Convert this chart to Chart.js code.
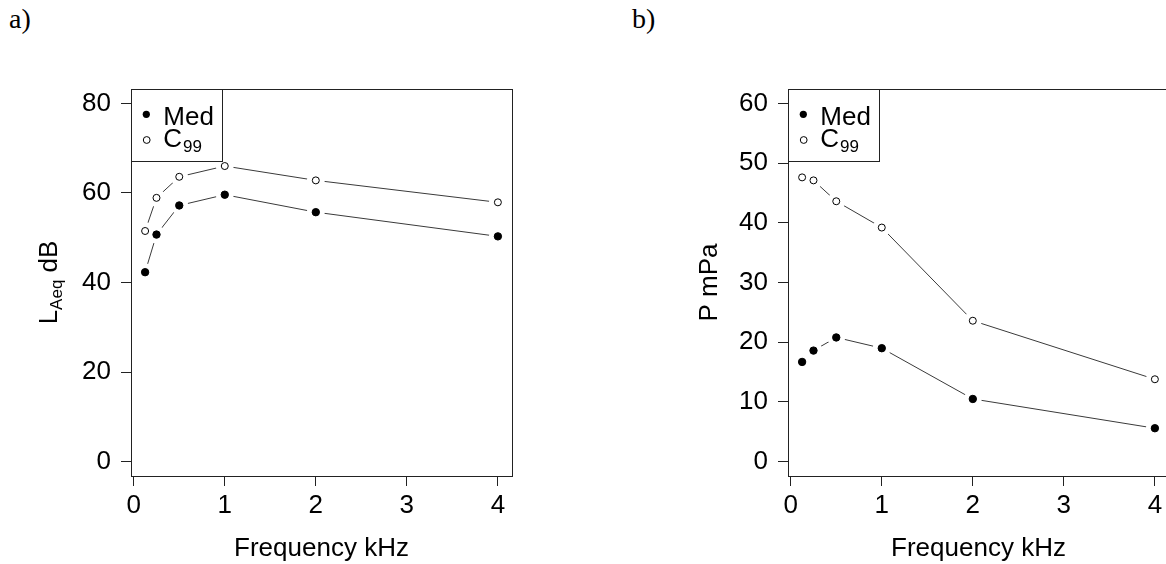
<!DOCTYPE html>
<html>
<head>
<meta charset="utf-8">
<script src="https://cdn.jsdelivr.net/npm/chart.js@4.4.1/dist/chart.umd.min.js"></script>
<style>
html, body { margin: 0; padding: 0; background: #fff; overflow: hidden; width: 1166px; height: 564px; }
.panel { position: absolute; top: 0; width: 583px; height: 564px; }
.tag { position: absolute; top: 5px; font-family: "Liberation Serif", "Times New Roman", serif; font-size: 28px; line-height: 28px; color: #000; }
</style>
</head>
<body>
<div class="tag" style="left:9px">a)</div>
<div class="tag" style="left:632px">b)</div>
<div class="panel" style="left:0"><canvas id="chartA" width="583" height="564"></canvas></div>
<div class="panel" style="left:657px"><canvas id="chartB" width="583" height="564"></canvas></div>
<script>
// frequencies in kHz
const freqs = [0.125, 0.25, 0.5, 1, 2, 4];

// panel a) LAeq dB
const laeqMed = [42.3, 50.7, 57.2, 59.6, 55.7, 50.3];
const laeqC99 = [51.5, 58.9, 63.6, 66.0, 62.8, 57.9];

// panel b) P mPa
const pMed = [16.7, 18.6, 20.8, 19.0, 10.5, 5.6];
const pC99 = [47.6, 47.1, 43.6, 39.2, 23.6, 13.8];

const xTicks = [0, 1, 2, 3, 4];
const laeqTicks = [0, 20, 40, 60, 80];
const pTicks = [0, 10, 20, 30, 40, 50, 60];

const FONT = '"Liberation Sans", Arial, sans-serif';
const INK = '#222';

// R style axis range: 4% extension on each side
function rRange(lo, hi) {
    const d = (hi - lo) * 0.04;
    return [lo - d, hi + d];
}

function pts(vals) {
    return freqs.map((f, i) => ({ x: f, y: vals[i] }));
}

/** box round the plot, legend and y title with subscript */
const boxPlugin = {
    id: 'box',
    afterDraw(chart, args, opts) {
        const ctx = chart.ctx;
        const a = chart.chartArea;
        ctx.save();
        ctx.strokeStyle = INK;
        ctx.lineWidth = 1;
        ctx.strokeRect(Math.round(a.left) + 0.5, Math.round(a.top) + 0.5,
            Math.round(a.right - a.left), Math.round(a.bottom - a.top));

        // legend
        const lx = Math.round(a.left), ly = Math.round(a.top);
        ctx.strokeRect(lx + 0.5, ly + 0.5, 91, 72);
        ctx.fillStyle = '#000';
        ctx.beginPath();
        ctx.arc(lx + 15.3, ly + 25.3, 3.6, 0, Math.PI * 2);
        ctx.fill();
        ctx.beginPath();
        ctx.arc(lx + 15.7, ly + 51, 3.4, 0, Math.PI * 2);
        ctx.fillStyle = '#fff';
        ctx.fill();
        ctx.strokeStyle = '#000';
        ctx.stroke();

        ctx.fillStyle = '#000';
        ctx.textBaseline = 'alphabetic';
        ctx.textAlign = 'left';
        ctx.font = '26px ' + FONT;
        ctx.fillText('Med', lx + 32.3, ly + 36);
        ctx.fillText('C', lx + 32.3, ly + 57.7);
        const cw = ctx.measureText('C').width;
        ctx.font = '17px ' + FONT;
        ctx.fillText('99', lx + 32.3 + cw + 1, ly + 62.7);

        // y axis title
        ctx.translate(a.left - opts.yOff, (a.top + a.bottom) / 2);
        ctx.rotate(-Math.PI / 2);
        ctx.font = '26px ' + FONT;
        const w1 = ctx.measureText(opts.yMain).width;
        const w3 = ctx.measureText(opts.yRest).width;
        ctx.font = '17px ' + FONT;
        const w2 = opts.ySub ? ctx.measureText(opts.ySub).width : 0;
        let x = -(w1 + w2 + w3) / 2;
        ctx.font = '26px ' + FONT;
        ctx.fillText(opts.yMain, x, 0);
        x += w1;
        if (opts.ySub) {
            ctx.font = '17px ' + FONT;
            ctx.fillText(opts.ySub, x, 5);
            x += w2;
        }
        ctx.font = '26px ' + FONT;
        ctx.fillText(opts.yRest, x, 0);
        ctx.restore();
    }
};

function makeChart(id, medVals, c99Vals, yTicks, titleOpts) {
    const xr = rRange(freqs[0], freqs[freqs.length - 1]);
    const yr = rRange(yTicks[0], yTicks[yTicks.length - 1]);

    const axisGrid = { display: true, drawOnChartArea: false, drawTicks: true, tickLength: 10, color: INK, lineWidth: 1 };

    return new Chart(document.getElementById(id), {
        type: 'scatter',
        data: {
            datasets: [
                // lines
                { data: pts(medVals), showLine: true, borderColor: '#3a3a3a', borderWidth: 1, pointRadius: 0, order: 3 },
                { data: pts(c99Vals), showLine: true, borderColor: '#3a3a3a', borderWidth: 1, pointRadius: 0, order: 3 },
                // white gaps round points (type = "b")
                { data: pts(medVals), showLine: false, pointRadius: 9, pointBackgroundColor: '#fff', pointBorderWidth: 0, pointBorderColor: '#fff', order: 2 },
                { data: pts(c99Vals), showLine: false, pointRadius: 9, pointBackgroundColor: '#fff', pointBorderWidth: 0, pointBorderColor: '#fff', order: 2 },
                // markers
                { data: pts(medVals), showLine: false, pointRadius: 3.7, pointBackgroundColor: '#000', pointBorderColor: '#000', pointBorderWidth: 1, order: 1 },
                { data: pts(c99Vals), showLine: false, pointRadius: 3.5, pointBackgroundColor: '#fff', pointBorderColor: '#000', pointBorderWidth: 1, order: 1 }
            ]
        },
        options: {
            responsive: false,
            animation: false,
            events: [],
            layout: { padding: { left: 71, right: 71, top: 89, bottom: 0 } },
            plugins: {
                legend: { display: false },
                tooltip: { enabled: false },
                box: titleOpts
            },
            scales: {
                x: {
                    type: 'linear',
                    min: xr[0],
                    max: xr[1],
                    afterBuildTicks: s => { s.ticks = xTicks.map(v => ({ value: v })); },
                    afterFit: s => { s.height = 88; },
                    grid: axisGrid,
                    border: { display: true, color: INK, width: 1 },
                    ticks: { color: '#000', font: { family: FONT, size: 26 }, padding: 4, maxRotation: 0, autoSkip: false },
                    title: { display: true, text: 'Frequency kHz', color: '#000', font: { family: FONT, size: 26 }, padding: { top: 0, bottom: 0 } }
                },
                y: {
                    type: 'linear',
                    min: yr[0],
                    max: yr[1],
                    afterBuildTicks: s => { s.ticks = yTicks.map(v => ({ value: v })); },
                    afterFit: s => { s.width = 60; },
                    grid: axisGrid,
                    border: { display: true, color: INK, width: 1 },
                    ticks: { color: '#000', font: { family: FONT, size: 26 }, padding: 10, autoSkip: false }
                }
            }
        },
        plugins: [boxPlugin]
    });
}

makeChart('chartA', laeqMed, laeqC99, laeqTicks, { yMain: 'L', ySub: 'Aeq', yRest: ' dB', yOff: 74 });
makeChart('chartB', pMed, pC99, pTicks, { yMain: 'P mPa', ySub: '', yRest: '', yOff: 71 });
</script>
</body>
</html>
